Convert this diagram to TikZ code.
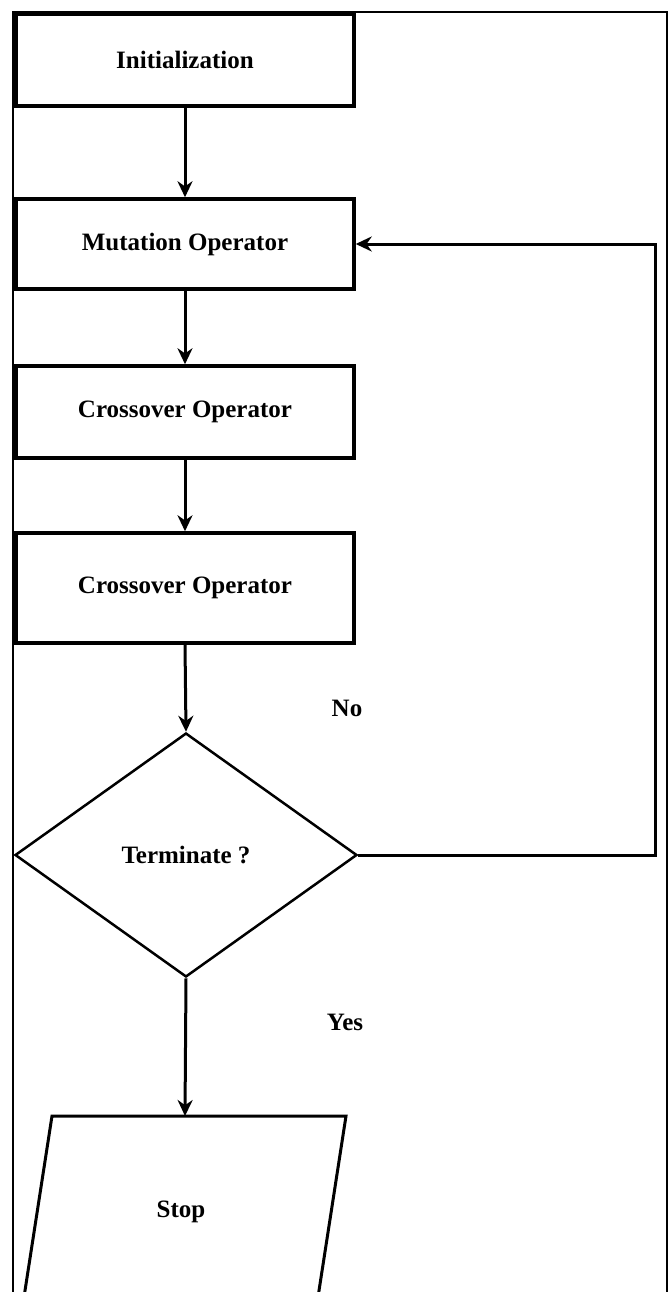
\documentclass[tikz,border=0pt]{standalone}
\usepackage{fontspec}
\setmainfont{Liberation Serif}
\usetikzlibrary{shapes.geometric,arrows.meta}
\begin{document}
\begin{tikzpicture}[x=1pt,y=-1pt,
  lbl/.style={font=\fontsize{25}{30}\selectfont\bfseries},
  stepbox/.style={draw,line width=3.5pt,minimum width=338pt,inner sep=0pt,lbl},
  decision/.style={draw,diamond,line width=2.5pt,minimum width=342pt,minimum height=244pt,inner sep=0pt,lbl},
  arr/.style={line width=3pt,-{Stealth[length=16pt,width=15pt]}},
  frame/.style={line width=1.8pt}]
\useasboundingbox (0,0) rectangle (670,1292);
% frame (cut at the bottom)
\draw[frame] (13,1300) -- (13,12) -- (667,12) -- (667,1300);
% nodes
\node[stepbox,minimum height=92pt]  (init) at (185,60)  {Initialization};
\node[stepbox,minimum height=90pt]  (mut)  at (185,244) {Mutation Operator};
\node[stepbox,minimum height=92pt]  (cr1)  at (185,412) {Crossover Operator};
\node[stepbox,minimum height=110pt] (cr2)  at (185,588) {Crossover Operator};
\node[decision] (term) at (186,855) {Terminate ?};
% stop parallelogram (bottom cut off by the page)
\coordinate (stoptop) at (185,1116);
\draw[line width=3pt] (22,1310) -- (52,1116) -- (346,1116) -- (316,1310);
\node[lbl] (stop) at (181,1212) {Stop};
% labels
\node[lbl] (no)  at (347,708) {No};
\node[lbl] (yes) at (345,1022) {Yes};
% connectors
\draw[arr] (init.south) -- (mut.north);
\draw[arr] (mut.south) -- (cr1.north);
\draw[arr] (cr1.south) -- (cr2.north);
\draw[arr] (cr2.south) -- (term.north);
\draw[arr] (term.south) -- (stoptop);
\draw[arr] (term.east) -- (655,855) -- (655,244) -- (mut.east);
\end{tikzpicture}
\end{document}
